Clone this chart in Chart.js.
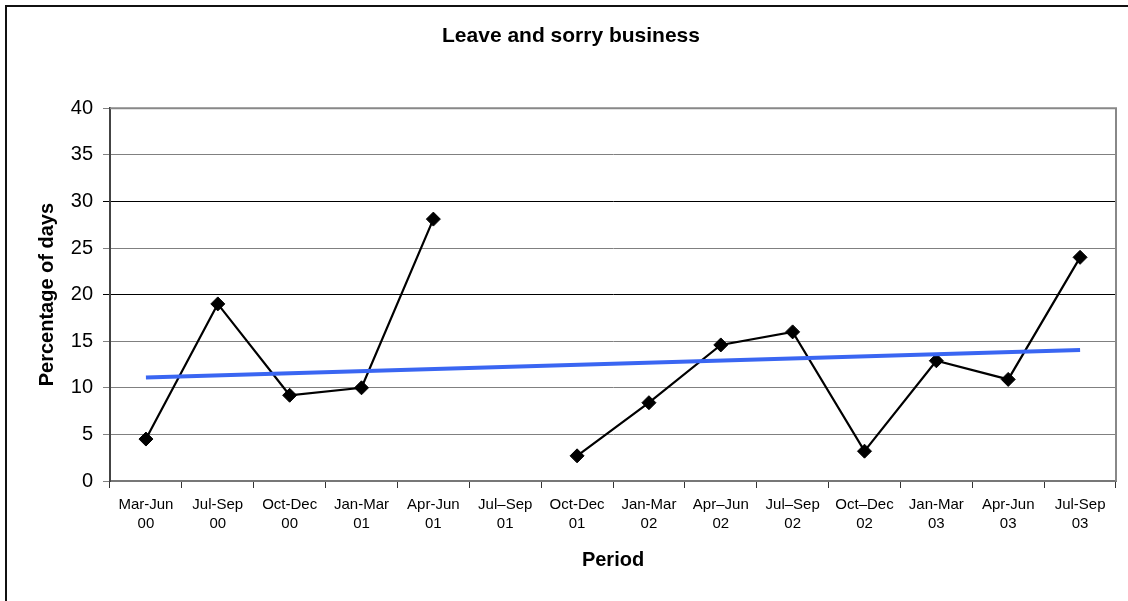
<!DOCTYPE html>
<html>
<head>
<meta charset="utf-8">
<script src="https://cdn.jsdelivr.net/npm/chart.js@4.4.0/dist/chart.umd.min.js"></script>
<style>
html,body{margin:0;padding:0;background:#fff;}
canvas{display:block;}
</style>
</head>
<body>
<canvas id="c" width="1128" height="601"></canvas>
<script>
const categories = [
  ["Mar-Jun","00"],["Jul-Sep","00"],["Oct-Dec","00"],["Jan-Mar","01"],["Apr-Jun","01"],
  ["Jul\u2013Sep","01"],["Oct-Dec","01"],["Jan-Mar","02"],["Apr\u2013Jun","02"],["Jul\u2013Sep","02"],
  ["Oct\u2013Dec","02"],["Jan-Mar","03"],["Apr-Jun","03"],["Jul-Sep","03"]
];
const leaveValues = [4.5, 19, 9.2, 10, 28.1, null, 2.7, 8.4, 14.6, 16, 3.2, 12.9, 10.9, 24];
const trendValues = [11.1, null, null, null, null, null, null, null, null, null, null, null, null, 14.05];
const yTicks = [0, 5, 10, 15, 20, 25, 30, 35, 40];

const FONT = "'Liberation Sans', Arial, Helvetica, sans-serif";

const framePlugin = {
  id: 'frame',
  beforeDraw(chart) {
    const ctx = chart.ctx;
    ctx.save();
    ctx.fillStyle = '#fff';
    ctx.fillRect(0, 0, chart.width, chart.height);
    ctx.strokeStyle = '#111';
    ctx.lineWidth = 2;
    ctx.strokeRect(6, 6, 1300, 800);
    ctx.restore();
  },
  afterDatasetsDraw(chart) {
    const ctx = chart.ctx, a = chart.chartArea;
    ctx.save();
    ctx.strokeStyle = '#888';
    ctx.lineWidth = 2;
    ctx.beginPath();
    ctx.moveTo(a.left, a.top);
    ctx.lineTo(a.right, a.top);
    ctx.lineTo(a.right, a.bottom);
    ctx.stroke();
    ctx.restore();
  }
};

new Chart(document.getElementById('c'), {
  type: 'line',
  data: {
    labels: categories,
    datasets: [
      {
        label: 'Trend',
        data: trendValues,
        borderColor: '#3a66f2',
        borderWidth: 4,
        pointRadius: 0,
        spanGaps: true,
        tension: 0
      },
      {
        label: 'Leave and sorry business',
        data: leaveValues,
        borderColor: '#000',
        borderWidth: 2.2,
        pointStyle: 'rectRot',
        pointRadius: 7,
        pointBackgroundColor: '#000',
        pointBorderColor: '#000',
        pointBorderWidth: 1,
        spanGaps: false,
        tension: 0
      }
    ]
  },
  options: {
    responsive: false,
    animation: false,
    layout: { padding: { left: 26, right: 12, top: 0, bottom: 0 } },
    plugins: {
      legend: { display: false },
      tooltip: { enabled: false },
      title: {
        display: true,
        text: 'Leave and sorry business',
        color: '#000',
        font: { family: FONT, size: 21, weight: 'bold' },
        padding: { top: 24, bottom: 59 }
      }
    },
    scales: {
      x: {
        type: 'category',
        offset: true,
        grid: {
          offset: true,
          drawOnChartArea: false,
          drawTicks: true,
          tickLength: 7,
          color: '#333',
          lineWidth: 1
        },
        border: { display: true, color: '#777', width: 2 },
        ticks: {
          color: '#000',
          font: { family: FONT, size: 15, lineHeight: 1.3 },
          padding: 7,
          maxRotation: 0,
          minRotation: 0,
          autoSkip: false
        },
        title: {
          display: true,
          text: 'Period',
          color: '#000',
          font: { family: FONT, size: 20, weight: 'bold' },
          padding: { top: 0, bottom: 29 }
        },
        afterFit(scale) { scale.height = 120; }
      },
      y: {
        min: 0,
        max: 40,
        afterBuildTicks(scale) { scale.ticks = yTicks.map(v => ({ value: v })); },
        grid: {
          color: ctx => (ctx.tick && (ctx.tick.value === 20 || ctx.tick.value === 30)) ? '#000' : '#808080',
          lineWidth: 1,
          tickLength: 7,
          drawTicks: true
        },
        border: { display: true, color: '#444', width: 2 },
        ticks: {
          color: '#000',
          font: { family: FONT, size: 20 },
          padding: 10
        },
        title: {
          display: true,
          text: 'Percentage of days',
          color: '#000',
          font: { family: FONT, size: 20, weight: 'bold' },
          padding: { top: 9, bottom: 0 }
        },
        afterFit(scale) { scale.width = 84; }
      }
    }
  },
  plugins: [framePlugin]
});
</script>
</body>
</html>
